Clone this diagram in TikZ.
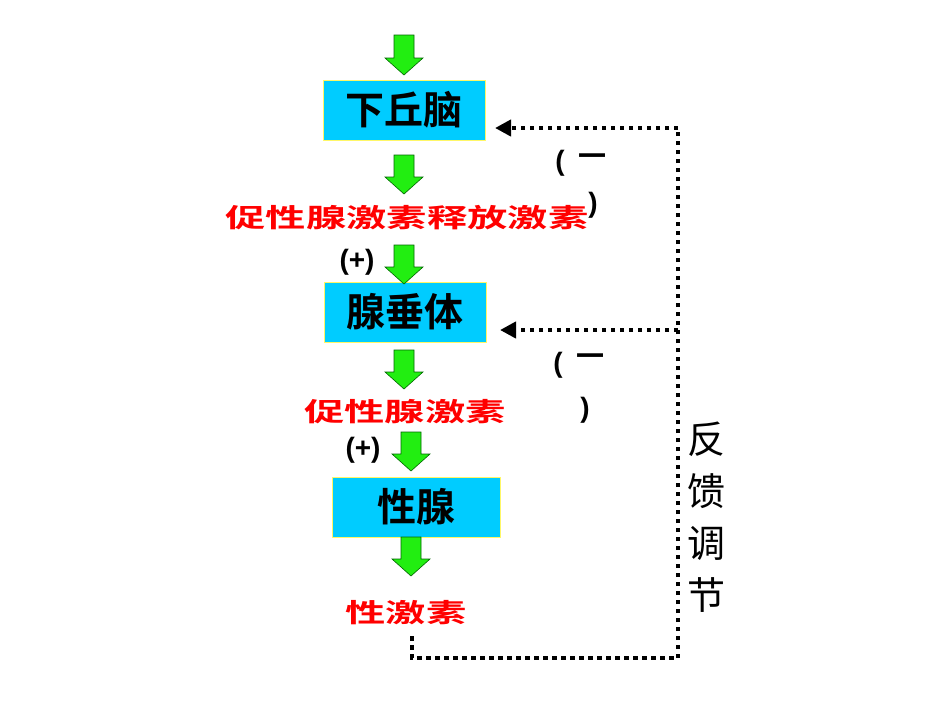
\documentclass[tikz,border=0pt]{standalone}
\usepackage{fontspec}
\newfontfamily\cjk{Noto Sans CJK SC}
\newfontfamily\cjkb{Noto Sans CJK SC Bold}
\setmainfont{Liberation Sans}
\usetikzlibrary{arrows.meta}
\definecolor{boxcyan}{HTML}{00CCFF}
\definecolor{garrowc}{HTML}{22EE11}
\newcommand\garrow[3]{\fill[garrowc,draw=green!40!black,line width=0.6pt] (#1-10,#2) -- (#1+10,#2) -- (#1+10,#3-17) -- (#1+19,#3-17) -- (#1,#3) -- (#1-19,#3-17) -- (#1-10,#3-17) -- cycle;}
\begin{document}
\begin{tikzpicture}[x=1pt,y=-1pt,
  organ/.style={draw=yellow!60!white,line width=0.8pt,fill=boxcyan,minimum width=162pt,minimum height=60pt,inner sep=0pt,font=\cjkb\fontsize{39}{42}\selectfont},
  hormone/.style={text=red,font=\cjkb\fontsize{26}{28}\selectfont},
  sign/.style={font=\bfseries\fontsize{28}{30}\selectfont},
  fb/.style={line width=4.5pt,dash pattern=on 4.5pt off 4.5pt},
  fbarrow/.style={fb,-{Triangle[length=16pt,width=16pt]}}]
\useasboundingbox (0,0) rectangle (950,713);
\fill[white] (0,0) rectangle (950,713);
\node[organ] (h) at (404,110) {下丘脑};
\node[organ] (p) at (405,312) {腺垂体};
\node[organ,minimum width=168pt] (g) at (416,507) {性腺};
\garrow{404}{35}{75}
\garrow{404}{155}{194}
\garrow{404}{245}{284}
\garrow{404}{350}{389}
\garrow{411}{432}{471}
\garrow{411}{537}{576}
\node[hormone] (r1) at (407,218) {\scalebox{1.55}[1]{促性腺激素释放激素}};
\node[hormone] (r2) at (405,412) {\scalebox{1.55}[1]{促性腺激素}};
\node[hormone] (r3) at (406,613) {\scalebox{1.55}[1]{性激素}};
\node[sign] (s1) at (357,262) {(+)};
\node[sign] (s2) at (363,450) {(+)};
\node[sign] (m1a) at (560,163) {(};
\node[font=\cjkb\fontsize{28}{28}\selectfont] (m1b) at (592,160) {一};
\node[sign] (m1c) at (593,205) {)};
\node[sign] (m2a) at (558,365) {(};
\node[font=\cjkb\fontsize{28}{28}\selectfont] (m2b) at (590,360) {一};
\node[sign] (m2c) at (585,410) {)};
\node[font=\cjk\fontsize{38}{52}\selectfont,align=center] (fbl) at (706,517) {反\\馈\\调\\节};
\coordinate (c0) at (412,636);
\coordinate (c1) at (412,658);
\coordinate (c2) at (678,658);
\coordinate (c3) at (678,330);
\coordinate (c4) at (678,128);
\coordinate (e1) at (495,128);
\coordinate (e2) at (500,330);
\draw[fb] (c0) -- (c1) -- (c2) -- (c3) -- (c4);
\draw[fbarrow] (c4) -- (e1);
\draw[fbarrow] (c3) -- (e2);
\end{tikzpicture}
\end{document}
